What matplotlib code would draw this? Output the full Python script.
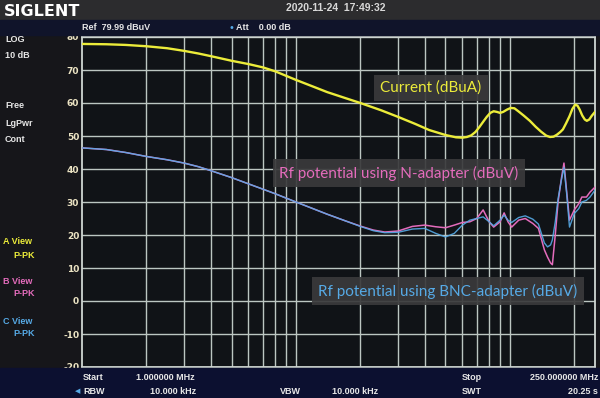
import numpy as np
import matplotlib
matplotlib.use('Agg')
import matplotlib.pyplot as plt
from matplotlib.patches import Rectangle

# current trace (A), dBuA
freq_a = [1, 1.3, 1.6, 2, 2.5, 3, 3.5, 4, 5, 6, 7, 8, 10, 12, 14, 17, 20, 25, 30, 36,
          42, 50, 56, 60, 63, 66, 69, 72, 75, 78, 81, 84, 87, 90, 93, 97, 101, 105,
          110, 116, 124, 132, 140, 148, 154, 160, 166, 172, 177, 183, 190, 196, 202,
          207, 212, 218, 224, 229, 235, 242, 250]
current = [77.9, 77.8, 77.6, 77.2, 76.6, 75.8, 75.0, 74.2, 72.8, 71.8, 70.8, 69.6,
           67.0, 65.0, 63.3, 61.5, 60.0, 57.8, 55.8, 53.7, 51.8, 50.3, 49.6, 49.5,
           49.7, 50.2, 51.2, 52.7, 54.3, 55.8, 57.0, 57.5, 57.3, 57.0, 57.3, 58.0,
           58.5, 58.4, 57.4, 56.2, 54.6, 52.8, 51.3, 50.1, 49.7, 49.8, 50.4, 51.2,
           52.0, 53.8, 56.0, 58.2, 59.5, 59.2, 58.0, 56.2, 55.0, 54.6, 55.0, 56.2,
           57.3]

# rf potential traces (B = N-adapter, C = BNC-adapter), dBuV
freq_rf = [1, 1.3, 1.6, 2, 2.5, 3, 3.5, 4, 5, 6, 7, 8, 10, 12, 14, 17, 20, 23, 26, 30,
           35, 40, 45, 50, 55, 60, 65, 70, 75, 80, 84, 90, 94, 98, 102, 110, 118, 128,
           136, 145, 150, 155, 158, 163, 168, 174, 179, 184, 190, 200, 210, 217, 228,
           237, 250]
rf_n = [46.4, 45.9, 45.0, 43.8, 42.8, 41.8, 40.7, 39.5, 37.4, 35.5, 33.9, 32.5, 30.0,
        28.0, 26.3, 24.3, 22.7, 21.5, 20.9, 21.2, 22.6, 23.0, 22.5, 22.2, 23.0, 23.8,
        24.0, 25.0, 27.6, 24.0, 22.4, 24.0, 26.7, 24.0, 22.4, 24.5, 25.0, 23.5, 22.0,
        15.5, 13.3, 11.5, 11.0, 20.0, 30.0, 37.0, 41.8, 33.6, 24.5, 27.6, 29.5, 31.5,
        31.5, 33.0, 34.5]
rf_bnc = [46.4, 45.9, 45.0, 43.8, 42.8, 41.8, 40.7, 39.5, 37.4, 35.5, 33.9, 32.5, 30.0,
          28.0, 26.3, 24.3, 22.6, 21.3, 20.7, 20.8, 21.8, 22.0, 20.5, 19.4, 20.5, 23.0,
          24.5, 25.0, 25.5, 24.0, 22.8, 24.5, 26.0, 24.5, 23.8, 25.3, 25.8, 24.8, 23.3,
          17.6, 16.4, 17.0, 18.5, 24.0, 31.0, 36.5, 40.5, 33.0, 22.4, 26.5, 28.0, 30.0,
          30.5, 31.5, 33.6]

y_ticks = [80, 70, 60, 50, 40, 30, 20, 10, 0, -10, -20]
grid_freqs = [2, 3, 4, 5, 6, 7, 8, 9, 10, 20, 30, 40, 50, 60, 70, 80, 90, 100, 200]

W, H = 600, 398
YEL = '#ecec3a'
PINK = '#e46cbc'
BLUE = '#56aae6'
UI = '#e6e6e6'


def px(x, y):
    return x / W, 1 - y / H


fig = plt.figure(figsize=(6, 3.98), dpi=100, facecolor='#16161a')

# screen bands
fig.patches.append(Rectangle((0, 1 - 20 / H), 1, 20 / H, transform=fig.transFigure,
                             color='#2c2c2e', zorder=0))
fig.patches.append(Rectangle((0, 1 - 35 / H), 1, 15 / H, transform=fig.transFigure,
                             color='#10142a', zorder=0))
fig.patches.append(Rectangle((0, 0), 1, 30 / H, transform=fig.transFigure,
                             color='#0c1030', zorder=0))

ax = fig.add_axes([82 / W, 1 - 367 / H, 513 / W, 330 / H])
ax.set_facecolor('#101317')
ax.set_xscale('log')
ax.set_xlim(1, 250)
ax.set_ylim(-20, 80)
ax.set_xticks(grid_freqs)
ax.set_xticklabels([])
ax.xaxis.set_minor_locator(matplotlib.ticker.NullLocator())
ax.set_yticks(y_ticks)
ax.set_yticklabels([str(v) for v in y_ticks])
ax.tick_params(axis='both', length=0, pad=2)
ax.tick_params(axis='y', labelsize=6.5, labelcolor='#ece4c4')
for lab in ax.get_yticklabels():
    lab.set_fontweight('bold')
ax.grid(True, color='#bcc6c2', linewidth=1.0)
for s in ax.spines.values():
    s.set_color('#cfd6d3')
    s.set_linewidth(1.3)

ax.plot(freq_a, current, color=YEL, linewidth=1.7, zorder=3)
ax.plot(freq_rf, rf_n, color=PINK, linewidth=1.1, zorder=3)
ax.plot(freq_rf, rf_bnc, color=BLUE, linewidth=1.0, alpha=0.9, zorder=4)

# annotation labels
box = dict(boxstyle='square,pad=0.4', facecolor='#3a3a3c', edgecolor='none', alpha=0.92)
fig.text(*px(431, 88), 'Current (dBuA)', color=YEL, fontsize=11, family='Lato',
         ha='center', va='center', bbox=box)
fig.text(*px(399, 173), 'Rf potential using N-adapter (dBuV)', color=PINK, fontsize=11,
         family='Lato', ha='center', va='center', bbox=box)
fig.text(*px(448, 291), 'Rf potential using BNC-adapter (dBuV)', color=BLUE, fontsize=11,
         family='Lato', ha='center', va='center', bbox=box)

# header
fig.text(*px(4, 11), 'SIGLENT', color='white', fontsize=11.5, fontweight='bold',
         family='DejaVu Sans', va='center')
fig.text(*px(336, 8), '2020-11-24  17:49:32', color='#d8d8d8', fontsize=7.5,
         fontweight='bold', family='Liberation Sans', ha='center', va='center')
fig.text(*px(82, 28), 'Ref  79.99 dBuV', color=UI, fontsize=6.5, fontweight='bold',
         family='Liberation Sans', va='center')
fig.text(*px(228, 28), '\u2022', color=BLUE, fontsize=7, va='center')
fig.text(*px(236, 28), 'Att    0.00 dB', color=UI, fontsize=6.5, fontweight='bold',
         family='Liberation Sans', va='center')

# left panel
left_items = [('LOG', 40, UI, 5), ('10 dB', 56, UI, 5), ('Free', 106, UI, 5),
              ('LgPwr', 123, UI, 5), ('Cont', 139, UI, 5),
              ('A View', 242, YEL, 3), ('P-PK', 255, YEL, 13),
              ('B View', 281, PINK, 3), ('P-PK', 294, PINK, 13),
              ('C View', 321, BLUE, 3), ('P-PK', 334, BLUE, 13)]
for txt, yy, col, xx in left_items:
    fig.text(*px(xx, yy), txt, color=col, fontsize=6.5, fontweight='bold',
             family='Liberation Sans', va='center')

# footer
foot = [('Start', 83, 377, 'left', UI), ('1.000000 MHz', 136, 377, 'left', UI),
        ('RBW', 83, 391, 'left', UI), ('10.000 kHz', 150, 391, 'left', UI),
        ('VBW', 280, 391, 'left', UI), ('10.000 kHz', 332, 391, 'left', UI),
        ('Stop', 462, 377, 'left', UI), ('SWT', 462, 391, 'left', UI),
        ('250.000000 MHz', 598, 377, 'right', UI), ('20.25 s', 598, 391, 'right', UI)]
for txt, xx, yy, ha, col in foot:
    fig.text(*px(xx, yy), txt, color=col, fontsize=6.5, fontweight='bold',
             family='Liberation Sans', ha=ha, va='center')
fig.text(*px(75, 391), '\u25c0', color=BLUE, fontsize=5, va='center')

fig.savefig('out.png', dpi=100, facecolor=fig.get_facecolor())
